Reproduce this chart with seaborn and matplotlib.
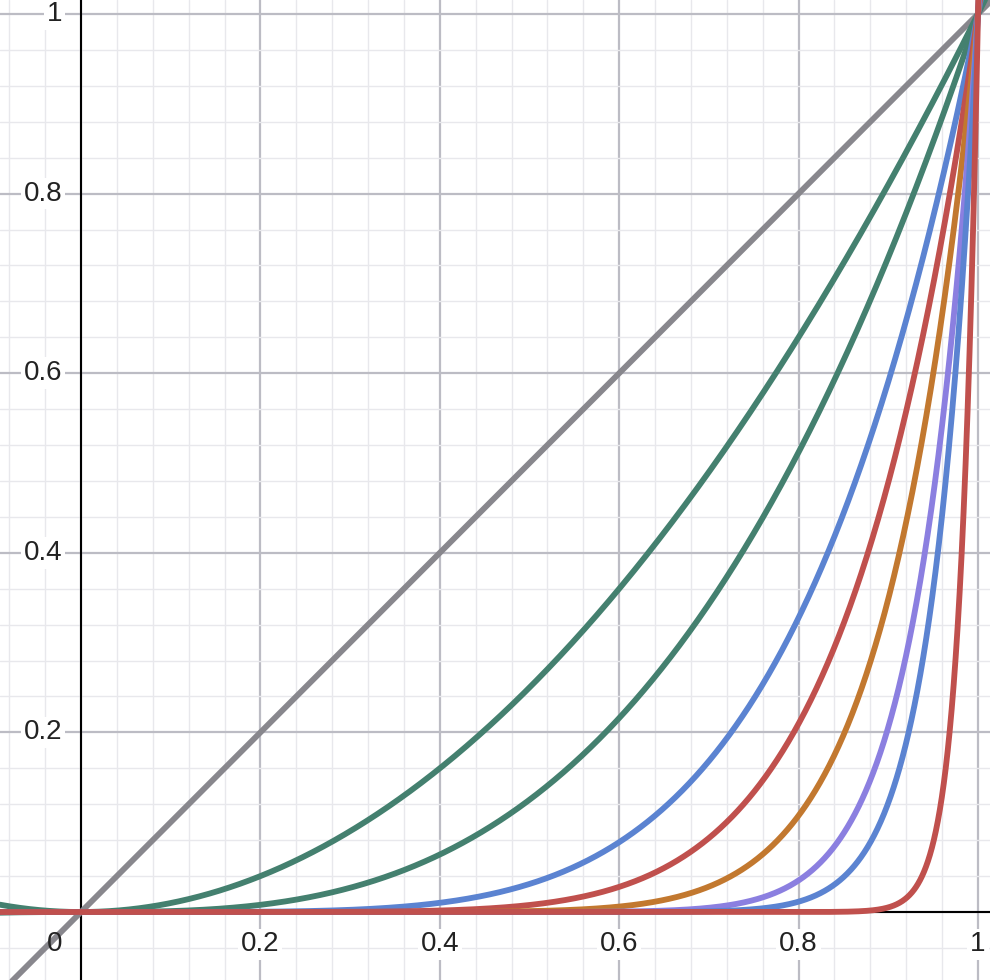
import numpy as np
import pandas as pd
import seaborn as sns
import matplotlib.pyplot as plt
from matplotlib.ticker import MultipleLocator

# Exponentes de las curvas y = x^n
exponentes = [1, 2, 3, 5, 7, 10, 15, 20, 50]
colores = ['#88878d', '#44806f', '#44806f', '#5b83d1', '#c0504d',
           '#c2782f', '#8b7fe0', '#5b83d1', '#c0504d']

# Etiquetas de los ejes
ticks_x = [0.2, 0.4, 0.6, 0.8, 1.0]
etiquetas_x = ['0.2', '0.4', '0.6', '0.8', '1']
ticks_y = [0.2, 0.4, 0.6, 0.8, 1.0]
etiquetas_y = ['0.2', '0.4', '0.6', '0.8', '1']

xmin, xmax = -0.0903, 1.0134
ymin, ymax = -0.0757, 1.0156

sns.set_style('white')
plt.rcParams['font.family'] = ['Liberation Sans', 'DejaVu Sans']

fig = plt.figure(figsize=(9.9, 9.8), dpi=100)
ax = fig.add_axes([0, 0, 1, 1])

# Cuadricula estilo Desmos
ax.xaxis.set_major_locator(MultipleLocator(0.2))
ax.yaxis.set_major_locator(MultipleLocator(0.2))
ax.xaxis.set_minor_locator(MultipleLocator(0.04))
ax.yaxis.set_minor_locator(MultipleLocator(0.04))
ax.grid(which='minor', color='#e8e8ec', linewidth=1.0, zorder=0)
ax.grid(which='major', color='#bcbcc4', linewidth=1.6, zorder=0)
ax.tick_params(which='both', length=0, labelbottom=False, labelleft=False)
for s in ax.spines.values():
    s.set_visible(False)
ax.set_axisbelow(True)

ax.axhline(0, color='black', linewidth=1.5, zorder=1)
ax.axvline(0, color='black', linewidth=1.5, zorder=1)

x = np.linspace(xmin, xmax, 3000)
for n, c in zip(exponentes, colores):
    df = pd.DataFrame({'x': x, 'y': x ** n})
    sns.lineplot(data=df, x='x', y='y', color=c, linewidth=4.2,
                 ax=ax, zorder=3, sort=False)

ax.set_xlim(xmin, xmax)
ax.set_ylim(ymin, ymax)
ax.set_xlabel('')
ax.set_ylabel('')

caja = dict(boxstyle='square,pad=0.1', facecolor='white', edgecolor='none')
for t, lab in zip(ticks_x, etiquetas_x):
    ax.annotate(lab, (t, 0), xytext=(0, -14), textcoords='offset points',
                ha='center', va='top', fontsize=20, color='#222222',
                bbox=caja, zorder=2)
for t, lab in zip(ticks_y, etiquetas_y):
    ax.annotate(lab, (0, t), xytext=(-13.5, 0), textcoords='offset points',
                ha='right', va='center', fontsize=20, color='#222222',
                bbox=caja, zorder=2)
ax.annotate('0', (0, 0), xytext=(-13.5, -14), textcoords='offset points',
            ha='right', va='top', fontsize=20, color='#222222', zorder=4)

fig.savefig('out.png', dpi=100)
